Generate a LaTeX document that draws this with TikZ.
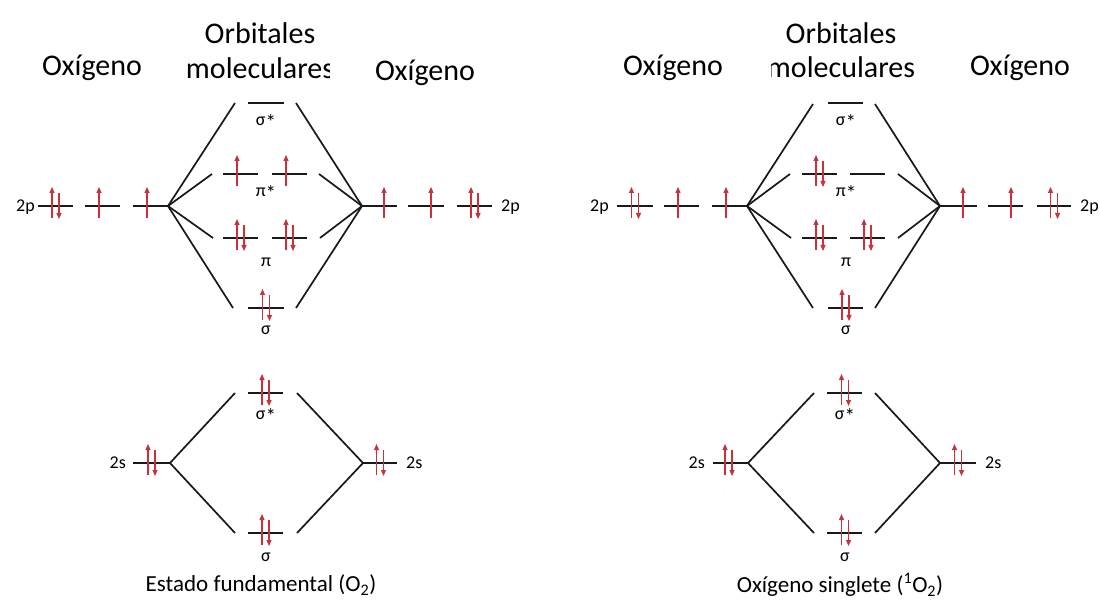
\documentclass[tikz,border=0pt]{standalone}
\usepackage{fontspec}
\setmainfont{Carlito}
\usetikzlibrary{arrows.meta}
\definecolor{ered}{RGB}{200,50,60}
\definecolor{lvlc}{RGB}{25,25,25}
\tikzset{
  lvl/.style={draw=lvlc, line width=2.1pt},
  conn/.style={draw=lvlc, line width=1.7pt},
  elec/.style={draw=ered, line width=1.1pt, -{Triangle[length=6pt,width=5pt]}},
  ttl/.style={font=\fontsize{30}{30}\selectfont, anchor=base, inner sep=0pt},
  lab/.style={font=\fontsize{18}{18}\selectfont, inner sep=0pt},
  captxt/.style={font=\fontsize{23}{23}\selectfont, inner sep=0pt},
}
\newcommand\mylevel[4]{\coordinate (#1-l) at (#2,#4); \coordinate (#1-r) at (#3,#4); \draw[lvl] (#1-l) -- (#1-r);}
\newcommand\eup[2]{\draw[elec] (#1,#2+12) -- (#1,#2-19);}
\newcommand\edn[2]{\draw[elec] (#1,#2-13) -- (#1,#2+13);}
\newcommand\epair[2]{\eup{#1-3.5}{#2}\edn{#1+3.5}{#2}}
\newcommand\mostar{\raisebox{-3.5pt}{\fontsize{21}{21}\selectfont *}}
\begin{document}
\begin{tikzpicture}[x=1pt,y=-1pt]
\useasboundingbox (0,0) rectangle (1100,601);
\fill[white] (0,0) rectangle (1100,601);

% ================= Diagram 1 =================
\node[ttl] (t1a) at (92,76) {Oxígeno};
\node[ttl] (t1b) at (260,44) {Orbitales};
\begin{scope}
\clip (150,45) rectangle (329,95);
\node[ttl] (t1c) at (260,79) {moleculares};
\end{scope}
\node[ttl] (t1d) at (425,81) {Oxígeno};

% 2p atomic levels
\mylevel{a1}{38}{73}{206} \mylevel{a2}{85}{120}{206} \mylevel{a3}{133}{168}{206}
\mylevel{b1}{362}{397}{206} \mylevel{b2}{408}{444}{206} \mylevel{b3}{457}{492}{206}
% MOs 2p
\mylevel{ss1}{248}{284}{103}
\mylevel{pa1}{223}{258}{174} \mylevel{pb1}{272}{307}{174}
\mylevel{qa1}{223}{258}{238} \mylevel{qb1}{272}{307}{238}
\mylevel{s1}{248}{284}{308}
\coordinate (c1a) at (235,103); \coordinate (c1b) at (212,174);
\coordinate (c1c) at (213,238); \coordinate (c1d) at (233,308);
\coordinate (c1e) at (296,103); \coordinate (c1f) at (319,174);
\coordinate (c1g) at (320,238); \coordinate (c1h) at (296,308);
\draw[conn] (a3-r) -- (c1a); \draw[conn] (a3-r) -- (c1b);
\draw[conn] (a3-r) -- (c1c); \draw[conn] (a3-r) -- (c1d);
\draw[conn] (b1-l) -- (c1e); \draw[conn] (b1-l) -- (c1f);
\draw[conn] (b1-l) -- (c1g); \draw[conn] (b1-l) -- (c1h);
\epair{55.5}{206} \eup{99}{206} \eup{147}{206}
\eup{384}{206} \eup{431}{206} \epair{474.5}{206}
\eup{237}{174} \eup{286}{174}
\epair{240.5}{238} \epair{289.5}{238}
\epair{266}{308}
\node[lab, anchor=east] (l1a) at (35,207) {2p};
\node[lab, anchor=west] (l1b) at (501,207) {2p};
\node[lab] (l1c) at (266,122) {σ\mostar};
\node[lab] (l1d) at (266,193) {π\mostar};
\node[lab] (l1e) at (266,262) {π};
\node[lab] (l1f) at (266,330) {σ};

% 2s
\mylevel{t1}{133}{170}{463} \mylevel{u1}{363}{397}{463}
\mylevel{ts1}{248}{283}{393} \mylevel{tb1}{248}{283}{533}
\coordinate (d1a) at (235,393); \coordinate (d1b) at (235,533);
\coordinate (d1c) at (297,393); \coordinate (d1d) at (297,533);
\draw[conn] (t1-r) -- (d1a); \draw[conn] (t1-r) -- (d1b);
\draw[conn] (d1c) -- (u1-l); \draw[conn] (d1d) -- (u1-l);
\epair{151.5}{463} \epair{380}{463} \epair{265.5}{393} \epair{265.5}{533}
\node[lab, anchor=east] (l1g) at (126,463) {2s};
\node[lab, anchor=west] (l1h) at (406,463) {2s};
\node[lab] (l1i) at (266,416) {σ\mostar};
\node[lab] (l1j) at (266,557) {σ};
\node[captxt] (cap1) at (261,585) {Estado fundamental (O\textsubscript{2})};

% ================= Diagram 2 =================
\node[ttl] (t2a) at (673,76) {Oxígeno};
\node[ttl] (t2b) at (841,44) {Orbitales};
\begin{scope}
\clip (771,45) rectangle (930,95);
\node[ttl] (t2c) at (841,78) {moleculares};
\end{scope}
\node[ttl] (t2d) at (1020,76) {Oxígeno};

\mylevel{a21}{617}{653}{206} \mylevel{a22}{664}{699}{206} \mylevel{a23}{712}{747}{206}
\mylevel{b21}{940}{977}{206} \mylevel{b22}{988}{1023}{206} \mylevel{b23}{1037}{1071}{206}
\mylevel{ss2}{828}{863}{103}
\mylevel{pa2}{802}{837}{174} \mylevel{pb2}{850}{885}{174}
\mylevel{qa2}{802}{837}{238} \mylevel{qb2}{850}{885}{238}
\mylevel{s2}{828}{863}{308}
\coordinate (c2a) at (813,104); \coordinate (c2b) at (790,174);
\coordinate (c2c) at (791,238); \coordinate (c2d) at (813,308);
\coordinate (c2e) at (875,104); \coordinate (c2f) at (898,174);
\coordinate (c2g) at (898,238); \coordinate (c2h) at (875,308);
\draw[conn] (a23-r) -- (c2a); \draw[conn] (a23-r) -- (c2b);
\draw[conn] (a23-r) -- (c2c); \draw[conn] (a23-r) -- (c2d);
\draw[conn] (b21-l) -- (c2e); \draw[conn] (b21-l) -- (c2f);
\draw[conn] (b21-l) -- (c2g); \draw[conn] (b21-l) -- (c2h);
\epair{635}{206} \eup{678}{206} \eup{726}{206}
\eup{963}{206} \eup{1011}{206} \epair{1054}{206}
\epair{819.5}{174}
\epair{819.5}{238} \epair{867.5}{238}
\epair{845.5}{308}
\node[lab, anchor=east] (l2a) at (609,207) {2p};
\node[lab, anchor=west] (l2b) at (1080,207) {2p};
\node[lab] (l2c) at (846,122) {σ\mostar};
\node[lab] (l2d) at (846,193) {π\mostar};
\node[lab] (l2e) at (846,262) {π};
\node[lab] (l2f) at (846,330) {σ};

\mylevel{t2}{713}{748}{463} \mylevel{u2}{940}{976}{463}
\mylevel{ts2}{827}{862}{393} \mylevel{tb2}{827}{862}{533}
\coordinate (d2a) at (814,393); \coordinate (d2b) at (814,533);
\coordinate (d2c) at (875,393); \coordinate (d2d) at (875,533);
\draw[conn] (t2-r) -- (d2a); \draw[conn] (t2-r) -- (d2b);
\draw[conn] (d2c) -- (u2-l); \draw[conn] (d2d) -- (u2-l);
\epair{728.5}{463} \epair{958}{463} \epair{845}{393} \epair{845}{533}
\node[lab, anchor=east] (l2g) at (705,463) {2s};
\node[lab, anchor=west] (l2h) at (985,463) {2s};
\node[lab] (l2i) at (845,416) {σ\mostar};
\node[lab] (l2j) at (845,557) {σ};
\node[captxt] (cap2) at (840,585) {Oxígeno singlete (\textsuperscript{1}O\textsubscript{2})};
\end{tikzpicture}
\end{document}
